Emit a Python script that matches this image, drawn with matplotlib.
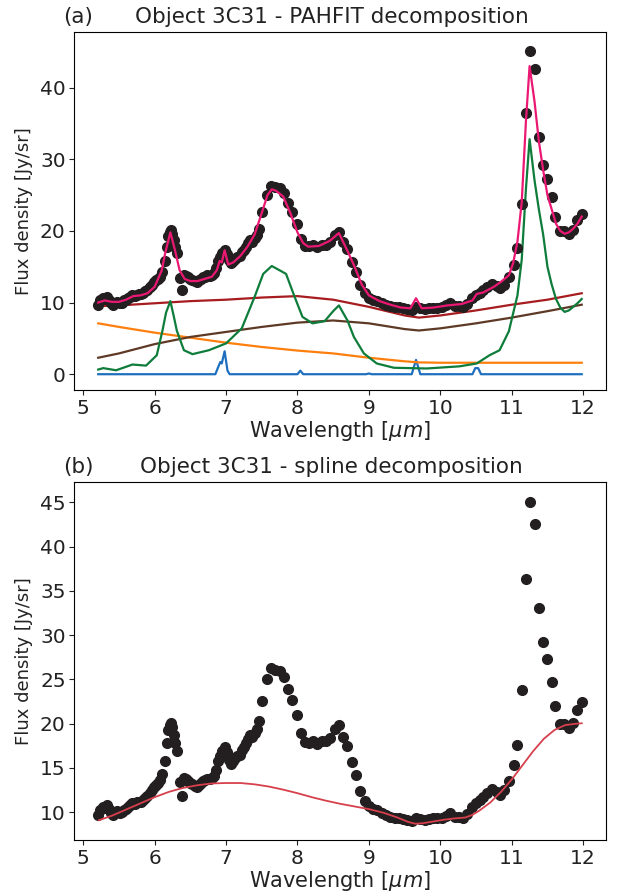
import matplotlib
matplotlib.use('Agg')
import matplotlib.pyplot as plt

wave = [5.21, 5.24, 5.27, 5.30, 5.33, 5.36, 5.39, 5.42, 5.45, 5.48,
        5.51, 5.54, 5.57, 5.60, 5.63, 5.66, 5.69, 5.72, 5.75, 5.78,
        5.81, 5.84, 5.87, 5.90, 5.93, 5.96, 5.99, 6.02, 6.05, 6.08,
        6.11, 6.14, 6.17, 6.19, 6.21, 6.23, 6.25, 6.27, 6.29, 6.32,
        6.35, 6.38, 6.41, 6.44, 6.47, 6.50, 6.53, 6.56, 6.59, 6.62,
        6.65, 6.68, 6.71, 6.74, 6.77, 6.80, 6.83, 6.86, 6.89, 6.92,
        6.95, 6.98, 7.01, 7.04, 7.07, 7.10, 7.13, 7.16, 7.19, 7.22,
        7.25, 7.28, 7.31, 7.34, 7.37, 7.40, 7.43, 7.46,
        7.51, 7.57, 7.63, 7.69, 7.75, 7.81, 7.87, 7.93, 7.99, 8.05,
        8.10, 8.16, 8.22, 8.28, 8.34, 8.40, 8.46, 8.52, 8.58, 8.64,
        8.70, 8.76, 8.82, 8.88, 8.94, 9.00, 9.06, 9.12, 9.18, 9.24,
        9.30, 9.36, 9.42, 9.48, 9.54, 9.60, 9.66, 9.72, 9.78, 9.84,
        9.90, 9.96, 10.02, 10.08, 10.14, 10.20, 10.26, 10.32, 10.38, 10.44,
        10.50, 10.55, 10.60, 10.65, 10.72, 10.79, 10.84, 10.89, 10.96, 11.03,
        11.08, 11.14, 11.20, 11.25, 11.32, 11.38, 11.44, 11.49, 11.56, 11.61,
        11.67, 11.73, 11.80, 11.86, 11.92, 11.98]
flux = [9.7, 10.3, 10.6, 10.5, 10.8, 10.4, 9.9, 9.7, 9.9, 10.1,
        9.9, 10.0, 10.3, 10.4, 10.6, 10.8, 11.0, 10.9, 11.1, 11.2,
        11.2, 11.4, 11.6, 11.8, 12.2, 12.5, 12.8, 13.1, 13.3, 13.6,
        14.3, 15.8, 17.8, 19.3, 19.8, 20.1, 19.6, 18.7, 17.8, 16.9,
        13.4, 11.8, 13.9, 13.7, 13.5, 13.3, 13.2, 13.0, 12.9, 13.1,
        13.3, 13.5, 13.6, 13.8, 13.7, 13.9, 14.1, 14.8, 15.8, 16.3,
        16.9, 17.4, 16.8, 15.9, 15.5, 15.8, 16.1, 16.4, 16.5, 17.0,
        17.4, 17.8, 18.3, 18.7, 18.5, 19.0, 19.4, 20.3,
        22.6, 25.0, 26.3, 26.1, 26.0, 25.3, 23.9, 22.7, 21.0, 18.9,
        17.9, 17.85, 18.0, 17.7, 18.1, 18.0, 18.4, 19.4, 19.8, 18.5,
        17.5, 15.7, 14.2, 12.4, 11.3, 10.7, 10.4, 10.2, 9.9, 9.7,
        9.5, 9.4, 9.4, 9.2, 9.1, 9.0, 9.4, 9.2, 9.1, 9.2,
        9.3, 9.3, 9.4, 9.6, 9.9, 9.5, 9.5, 9.4, 9.8, 10.6,
        11.0, 11.4, 11.7, 12.2, 12.6, 12.3, 12.0, 12.5, 13.5, 15.3,
        17.6, 23.8, 36.4, 45.1, 42.6, 33.1, 29.2, 27.3, 24.7, 22.0,
        20.0, 20.0, 19.5, 20.1, 21.5, 22.4]
flux_err = 0.35

# PAHFIT components
lines_wave = [5.21, 6.85, 6.89, 6.92, 6.94, 6.98, 7.02, 7.05, 8.00, 8.04,
              8.08, 8.96, 9.00, 9.04, 9.60, 9.66, 9.72, 10.45, 10.49, 10.53,
              10.57, 11.98]
lines_flux = [0.0, 0.0, 1.0, 1.7, 1.5, 3.2, 0.5, 0.0, 0.0, 0.5,
              0.0, 0.0, 0.1, 0.0, 0.0, 2.0, 0.0, 0.0, 0.85, 0.85,
              0.0, 0.0]

cont_wave = [5.21, 5.5, 6.0, 6.5, 7.0, 7.5, 8.0, 8.5, 9.0, 9.5,
             9.7, 10.0, 10.5, 11.0, 11.5, 11.98]
hot_dust = [7.1, 6.6, 5.8, 5.1, 4.4, 3.8, 3.3, 2.9, 2.3, 1.8,
            1.65, 1.6, 1.6, 1.6, 1.6, 1.6]
warm_dust = [2.3, 2.9, 4.2, 5.2, 5.9, 6.6, 7.2, 7.5, 7.1, 6.3,
             6.1, 6.4, 7.1, 7.9, 8.8, 9.7]
total_cont = [9.5, 9.6, 9.9, 10.2, 10.4, 10.7, 10.9, 10.4, 9.4, 8.2,
              7.9, 8.2, 8.9, 9.7, 10.4, 11.3]

pah_wave = [5.21, 5.28, 5.46, 5.69, 5.88, 6.03, 6.11, 6.16, 6.22, 6.27,
            6.31, 6.41, 6.53, 6.76, 7.0, 7.22, 7.40, 7.52, 7.64, 7.75,
            7.84, 7.96, 8.07, 8.21, 8.38, 8.50, 8.58, 8.70, 8.79, 8.93,
            9.11, 9.35, 9.81, 10.27, 10.51, 10.69, 10.83, 10.96, 11.02, 11.08,
            11.14, 11.20, 11.25, 11.32, 11.38, 11.44, 11.50, 11.56, 11.62, 11.68,
            11.74, 11.80, 11.86, 11.92, 11.98]
pah_flux = [0.65, 0.85, 0.55, 1.35, 1.2, 2.65, 6.1, 8.6, 10.2, 8.0,
            6.1, 3.35, 2.8, 3.35, 4.3, 6.4, 10.8, 14.0, 15.1, 14.5,
            14.0, 10.8, 8.0, 7.1, 7.4, 8.8, 9.6, 7.5, 5.2, 2.9,
            1.5, 0.9, 0.8, 1.1, 1.5, 2.65, 3.35, 6.0, 8.5, 11.0,
            16.0, 26.0, 32.8, 27.0, 23.0, 19.5, 15.0, 12.5, 10.5, 9.3,
            8.7, 8.9, 9.4, 9.9, 10.5]

model_wave = [5.21, 5.30, 5.40, 5.50, 5.60, 5.70, 5.80, 5.90, 6.00, 6.10,
              6.15, 6.22, 6.28, 6.35, 6.42, 6.50, 6.60, 6.70, 6.80, 6.87,
              6.91, 6.94, 6.98, 7.03, 7.10, 7.20, 7.30, 7.40, 7.50, 7.58,
              7.64, 7.70, 7.80, 7.90, 8.00, 8.08, 8.15, 8.30, 8.45, 8.58,
              8.70, 8.80, 8.90, 9.00, 9.15, 9.30, 9.45, 9.58, 9.66, 9.74,
              9.90, 10.10, 10.30, 10.45, 10.51, 10.60, 10.75, 10.85, 10.96, 11.02,
              11.08, 11.14, 11.20, 11.25, 11.32, 11.38, 11.44, 11.50, 11.56, 11.62,
              11.68, 11.74, 11.80, 11.86, 11.92, 11.98]
model_flux = [10.0, 10.3, 10.1, 10.1, 10.4, 10.9, 11.0, 11.3, 12.2, 14.5,
              17.0, 19.8, 17.5, 14.5, 13.3, 13.0, 13.0, 13.3, 13.6, 14.5,
              15.8, 15.6, 17.3, 15.3, 15.6, 16.5, 17.8, 19.5, 22.5, 25.0,
              25.8, 25.6, 24.8, 22.5, 19.8, 18.3, 17.8, 17.9, 18.6, 19.7,
              17.2, 15.0, 12.5, 11.0, 10.2, 9.7, 9.3, 9.2, 10.6, 9.2,
              9.3, 9.6, 9.8, 10.3, 11.2, 11.4, 12.2, 12.9, 13.8, 15.5,
              18.5, 24.0, 35.5, 43.0, 38.0, 32.5, 28.5, 25.0, 23.0, 21.0,
              20.0, 19.6, 19.8, 20.3, 21.0, 22.0]

# spline continuum
spline_wave = [5.22, 5.4, 5.6, 5.8, 6.0, 6.2, 6.4, 6.6, 6.8, 7.0,
               7.2, 7.4, 7.6, 7.8, 8.0, 8.2, 8.4, 8.6, 8.8, 9.0,
               9.2, 9.4, 9.55, 9.65, 9.75, 9.9, 10.05, 10.2, 10.35, 10.45,
               10.55, 10.7, 10.85, 11.0, 11.15, 11.3, 11.45, 11.6, 11.75, 11.9,
               11.98]
spline_flux = [9.1, 9.6, 10.3, 11.0, 11.7, 12.3, 12.75, 13.05, 13.25, 13.3,
               13.3, 13.15, 12.9, 12.55, 12.15, 11.7, 11.3, 10.95, 10.65, 10.35,
               9.95, 9.4, 8.9, 8.7, 8.75, 8.95, 9.15, 9.3, 9.4, 9.7,
               10.2, 11.1, 12.3, 13.7, 15.3, 16.9, 18.3, 19.3, 19.85, 20.0,
               20.05]

plt.rcParams['font.family'] = 'DejaVu Sans'
plt.rcParams['font.size'] = 15

fig, (ax1, ax2) = plt.subplots(2, 1, figsize=(6.17, 8.96), dpi=100)
fig.subplots_adjust(left=0.12, right=0.982, top=0.964, bottom=0.062, hspace=0.256)

dot = dict(fmt='o', color='#231f20', ms=7, elinewidth=1.2, capsize=0, zorder=3)

ax1.plot(lines_wave, lines_flux, color='#1f6fbf', lw=1.6)
ax1.plot(cont_wave, hot_dust, color='#ff7f0e', lw=1.6)
ax1.plot(cont_wave, warm_dust, color='#5e3a26', lw=1.6)
ax1.plot(cont_wave, total_cont, color='#a61c1f', lw=1.6)
ax1.plot(pah_wave, pah_flux, color='#0e7c3a', lw=1.6)
ax1.errorbar(wave, flux, yerr=flux_err, **dot)
ax1.plot(model_wave, model_flux, color='#ea1873', lw=1.6, zorder=4)
ax1.set_yticks([0, 10, 20, 30, 40])

ax2.errorbar(wave, flux, yerr=flux_err, **dot)
ax2.plot(spline_wave, spline_flux, color='#d6404c', lw=1.3, zorder=4)
ax2.set_yticks([10, 15, 20, 25, 30, 35, 40, 45])

titles = [('(a)', 'Object 3C31 - PAHFIT decomposition'),
          ('(b)', 'Object 3C31 - spline decomposition')]
for ax, (tag, name) in zip((ax1, ax2), titles):
    ax.text(-0.02, 1.015, tag, transform=ax.transAxes, fontsize=15.5,
            ha='left', va='bottom', color='#222222')
    ax.text(0.484, 1.015, name, transform=ax.transAxes, fontsize=15.5,
            ha='center', va='bottom', color='#222222')
    ax.set_xticks([5, 6, 7, 8, 9, 10, 11, 12])
    ax.tick_params(labelsize=14.5, pad=2.5, colors='#222222')
    ax.set_xlabel(r'Wavelength [$\mu m$]', fontsize=15, labelpad=1, color='#222222')
    ax.set_ylabel('Flux density [Jy/sr]', fontsize=13, labelpad=5, color='#222222')

fig.savefig('out.png', dpi=100)
